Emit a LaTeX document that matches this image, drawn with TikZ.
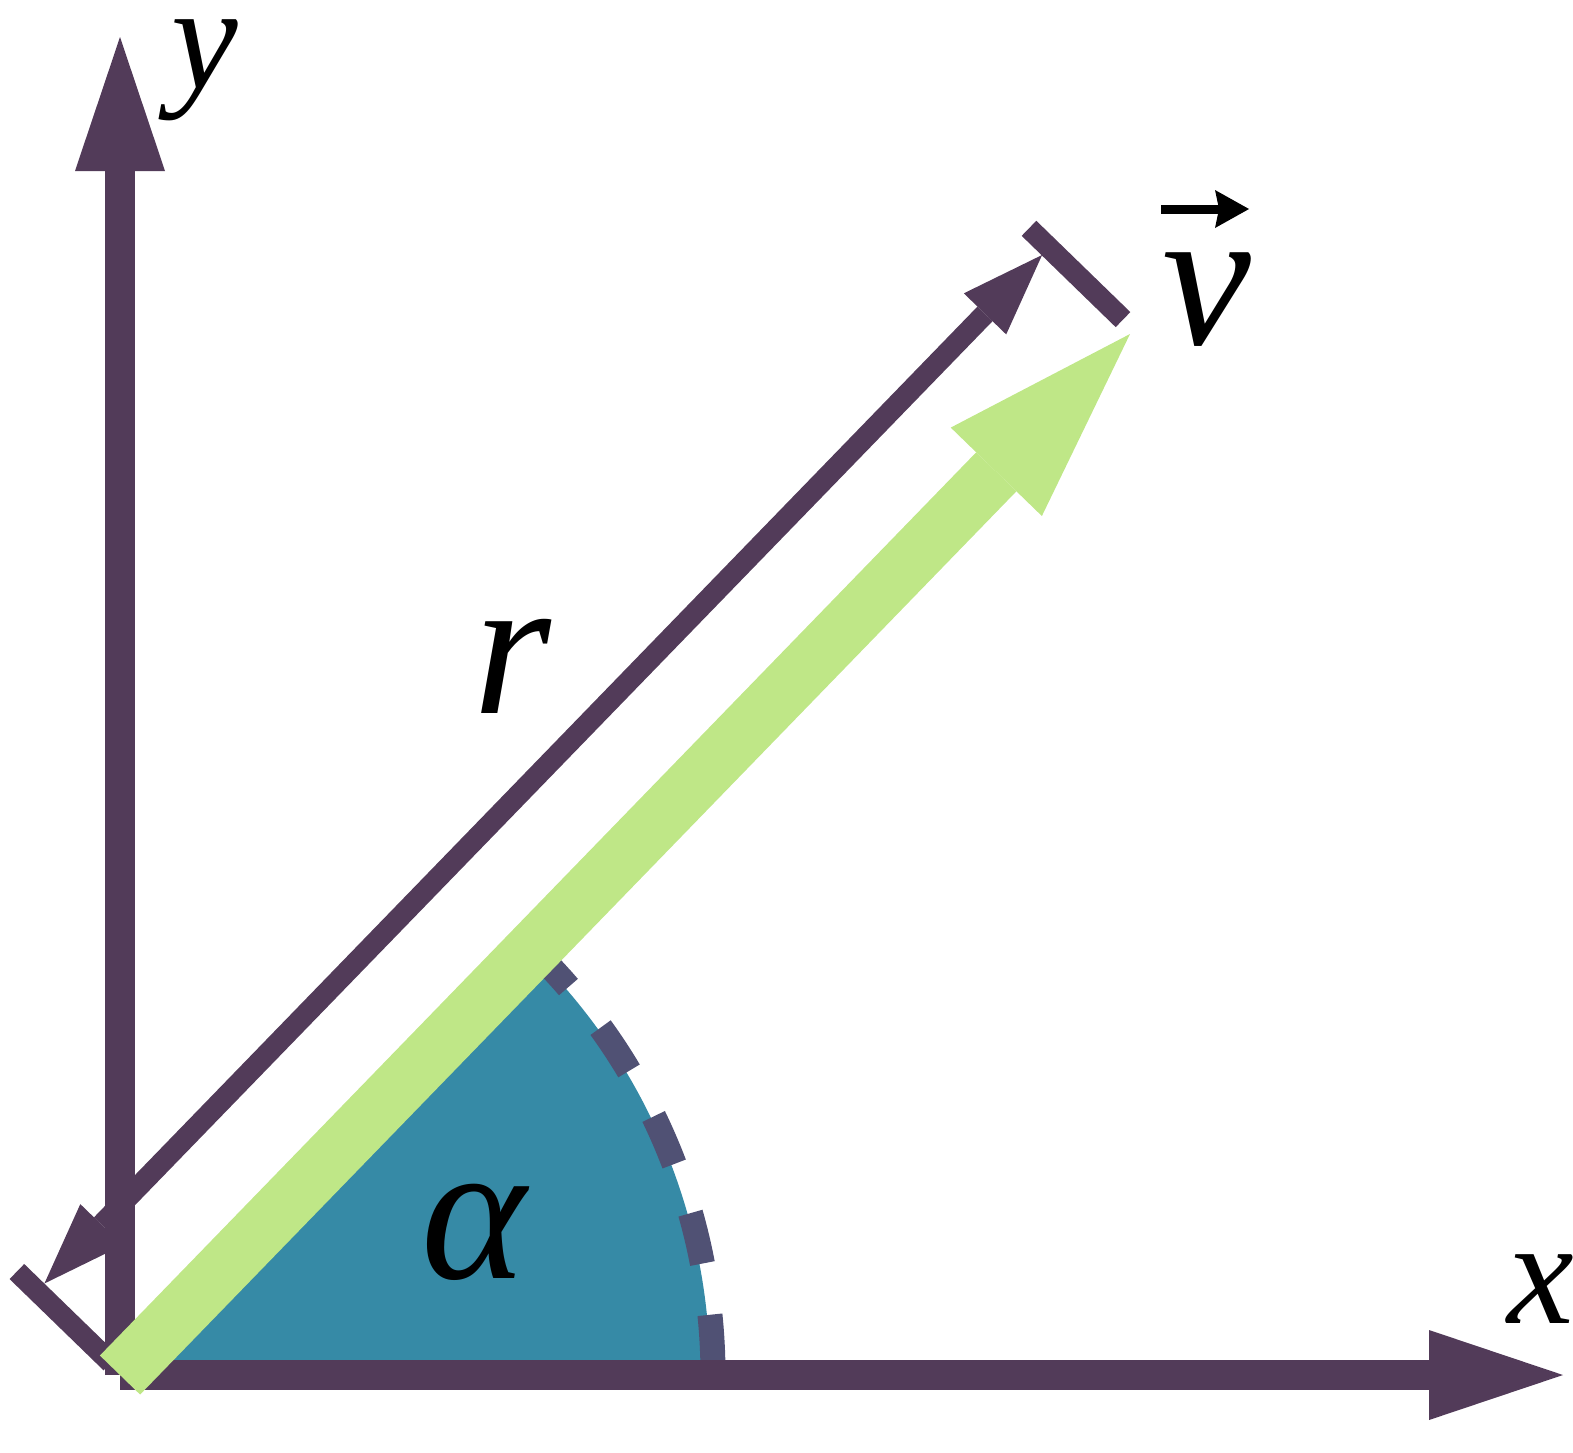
\documentclass[tikz,border=0pt]{standalone}
\usepackage{fontspec}
\setmainfont{Liberation Serif}
\usetikzlibrary{arrows.meta,calc}
\definecolor{axispurple}{RGB}{82,59,89}
\definecolor{vecgreen}{RGB}{191,231,135}
\definecolor{sectorteal}{RGB}{54,138,166}
\definecolor{arcdash}{RGB}{80,81,116}
\begin{document}
\begin{tikzpicture}[x=0.5pt,y=-0.5pt,
  axisline/.style={draw=axispurple, line width=15pt, line cap=butt,
    -{Triangle[length=67pt,width=45pt,line width=0pt]}},
  vecline/.style={draw=vecgreen, line width=28pt, line cap=butt,
    -{Triangle[length=96pt,width=63.5pt,line width=0pt]}},
  dimline/.style={draw=axispurple, line width=10.5pt, line cap=butt,
    {Triangle[length=41pt,width=29.5pt,line width=0pt]}-{Triangle[length=41pt,width=29.5pt,line width=0pt]}},
  dimtick/.style={draw=axispurple, line width=10.5pt, line cap=butt},
  arcline/.style={draw=arcdash, line width=12.5pt, line cap=butt, dash pattern=on 25.9pt off 25.9pt},
  smalllab/.style={inner sep=0pt, font=\fontsize{75}{80}\selectfont\itshape},
  biglab/.style={inner sep=0pt, font=\fontsize{100}{110}\selectfont\itshape}]
\useasboundingbox (0,0) rectangle (1573,1452);
% key points
\coordinate (O) at (120,1375);
\coordinate (T) at (1130,334);
\coordinate (ytip) at (120,37);
\coordinate (xtip) at (1563,1375);
% sector
\fill[sectorteal] (O) -- ++(-45.87:590) arc[start angle=-45.87, end angle=0, radius=590] -- cycle;
\draw[arcline] ($(O)+(-45.87:593)$) arc[start angle=-45.87, end angle=0, radius=593];
% axes
\draw[axisline] (O) -- (ytip);
\draw[axisline] (O) -- (xtip);
% dimension
\coordinate (tb1) at (110.9,1362.8);
\coordinate (tb2) at (16.9,1271.5);
\coordinate (tt1) at (1123.0,319.6);
\coordinate (tt2) at (1029.0,228.3);
\coordinate (d1) at (44.4,1283.5);
\coordinate (d2) at (1042.1,255.0);
\draw[dimtick] (tb1) -- (tb2);
\draw[dimtick] (tt1) -- (tt2);
\draw[dimline] (d1) -- (d2);
% vector
\draw[vecline] (O) -- (T);
% labels
\node[smalllab, anchor=base] (ylab) at (205,88) {y};
\node[smalllab, anchor=base] (xlab) at (1541,1323) {x};
\node[biglab, anchor=base] (vlab) at (1207,344) {v};
\node[biglab, anchor=base] (rlab) at (512,713) {r};
\node[biglab, anchor=base] (alab) at (474,1278) {α};
\coordinate (va1) at (1161,209);
\coordinate (va2) at (1249,209);
\draw[line width=4.5pt, line cap=butt, -{Stealth[length=17pt,width=19pt,inset=2pt,line width=0pt]}] (va1) -- (va2);
\end{tikzpicture}
\end{document}
